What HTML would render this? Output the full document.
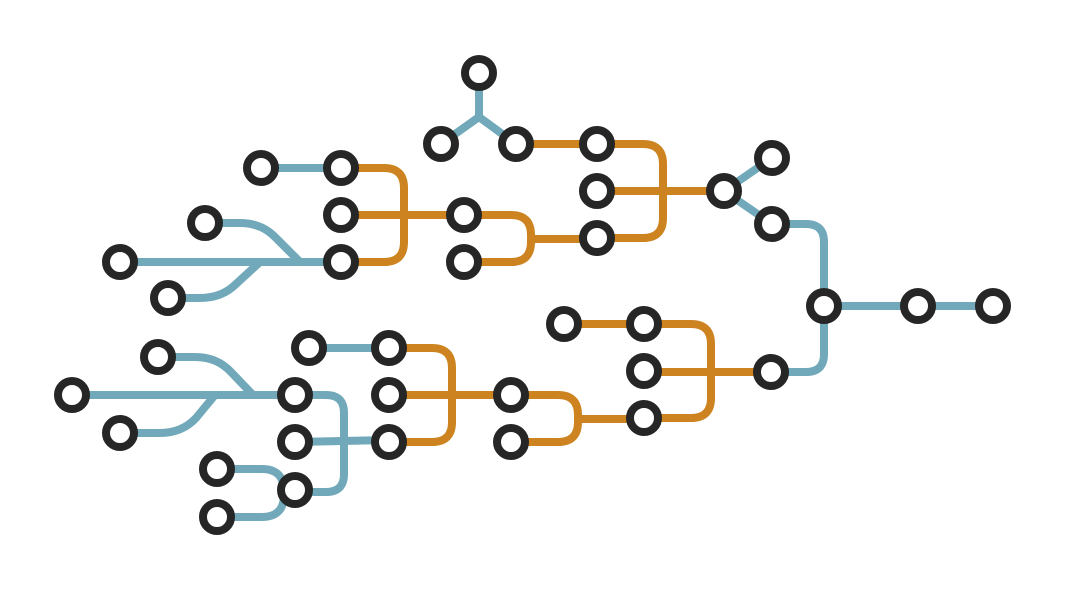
<!DOCTYPE html>
<html><head><style>html,body{margin:0;padding:0;background:#fff;}svg{display:block}</style></head>
<body>
<svg width="1068" height="590" viewBox="0 0 1068 590" xmlns="http://www.w3.org/2000/svg">
<g fill="none" stroke-width="8" stroke-linejoin="round">
<!-- blue -->
<g stroke="#72a9ba">
<path d="M479,73 V117 L441,144 M479,117 L516,144"/>
<path d="M724,191 L772,158 M724,191 L772,224"/>
<path d="M772,224 H806 Q824,224 824,242 V354 Q824,372 806,372 H771"/>
<path d="M824,306 H993"/>
<path d="M261,168 H341"/>
<path d="M120,262 H341"/>
<path d="M205,223 H240 Q262,223 276,238 L300,262"/>
<path d="M168,298 H200 Q222,298 236,284 L260,262"/>
<path d="M309,348 H389"/>
<path d="M72,395 H295"/>
<path d="M158,357 H195 Q217,357 231,372 L253,395"/>
<path d="M120,433 H160 Q182,433 196,418 L215,395"/>
<path d="M295,395 H326 Q344,395 344,413 V474 Q344,492 326,492 H295"/>
<path d="M295,442 L389,440"/>
<path d="M217,469 H262 Q282,469 284,488 M217,517 H262 Q282,517 284,498"/>
</g>
<!-- orange -->
<g stroke="#cd8420">
<path d="M516,144 H597"/>
<path d="M597,144 H643 Q663,144 663,164 V218 Q663,238 643,238 H597 M597,191 H724"/>
<path d="M341,168 H384 Q404,168 404,188 V242 Q404,262 384,262 H341 M341,215 H464"/>
<path d="M464,215 H511 Q531,215 531,235 V242 Q531,262 511,262 H464 M531,239 H597"/>
<path d="M564,324 H644"/>
<path d="M644,324 H691 Q711,324 711,344 V398 Q711,418 691,418 H644 M644,372 H771"/>
<path d="M389,348 H432 Q452,348 452,368 V422 Q452,442 432,442 H389 M389,395 H511"/>
<path d="M511,395 H558 Q578,395 578,415 V422 Q578,442 558,442 H511 M578,419 H644"/>
</g>
<!-- nodes -->
<g stroke="#262626" fill="#fff">
<circle cx="479" cy="73" r="14"/><circle cx="441" cy="144" r="14"/><circle cx="516" cy="144" r="14"/>
<circle cx="597" cy="144" r="14"/><circle cx="597" cy="191" r="14"/><circle cx="597" cy="238" r="14"/>
<circle cx="724" cy="191" r="14"/><circle cx="772" cy="158" r="14"/><circle cx="772" cy="224" r="14"/>
<circle cx="824" cy="306" r="14"/><circle cx="918" cy="306" r="14"/><circle cx="993" cy="306" r="14"/>
<circle cx="771" cy="372" r="14"/>
<circle cx="564" cy="324" r="14"/><circle cx="644" cy="324" r="14"/><circle cx="644" cy="371" r="14"/><circle cx="644" cy="418" r="14"/>
<circle cx="511" cy="395" r="14"/><circle cx="511" cy="442" r="14"/>
<circle cx="389" cy="348" r="14"/><circle cx="389" cy="395" r="14"/><circle cx="389" cy="442" r="14"/>
<circle cx="309" cy="348" r="14"/>
<circle cx="295" cy="395" r="14"/><circle cx="295" cy="442" r="14"/><circle cx="295" cy="490" r="14"/>
<circle cx="217" cy="469" r="14"/><circle cx="217" cy="517" r="14"/>
<circle cx="72" cy="395" r="14"/><circle cx="158" cy="357" r="14"/><circle cx="120" cy="433" r="14"/>
<circle cx="261" cy="168" r="14"/><circle cx="341" cy="168" r="14"/><circle cx="341" cy="215" r="14"/><circle cx="341" cy="262" r="14"/>
<circle cx="464" cy="215" r="14"/><circle cx="464" cy="262" r="14"/>
<circle cx="120" cy="262" r="14"/><circle cx="205" cy="223" r="14"/><circle cx="168" cy="298" r="14"/>
</g>
</g>
</svg>
</body></html>
